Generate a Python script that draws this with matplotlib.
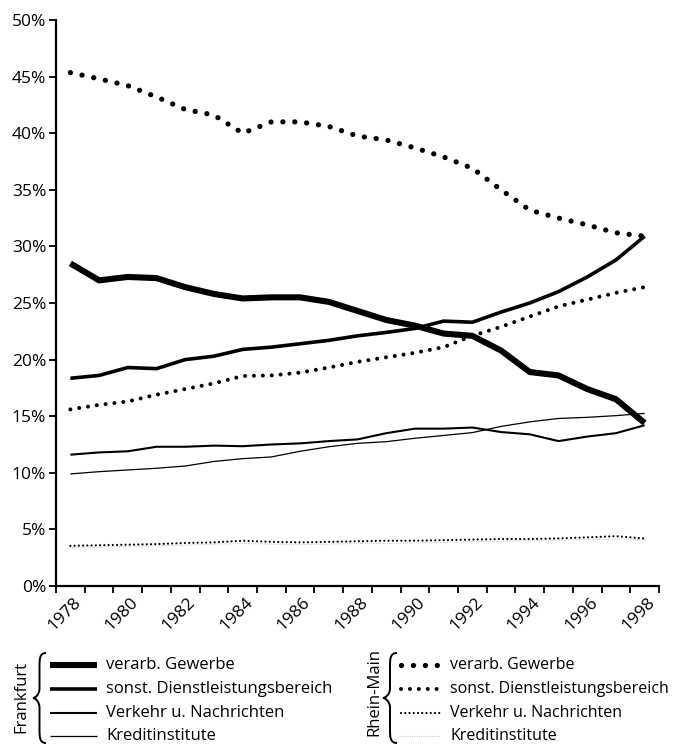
import matplotlib.pyplot as plt
from matplotlib.path import Path
from matplotlib.patches import PathPatch
from matplotlib.lines import Line2D
import matplotlib.transforms as mtransforms

plt.rcParams['font.family'] = ['Open Sans', 'DejaVu Sans']

years = list(range(1978, 1999))

# Frankfurt
ffm_verarb = [28.5, 27.0, 27.3, 27.2, 26.4, 25.8, 25.4, 25.5, 25.5, 25.1, 24.3,
              23.5, 23.0, 22.3, 22.1, 20.8, 18.9, 18.6, 17.4, 16.5, 14.4]
ffm_dienst = [18.35, 18.6, 19.3, 19.2, 20.0, 20.3, 20.9, 21.1, 21.4, 21.7, 22.1,
              22.4, 22.75, 23.4, 23.3, 24.2, 25.0, 26.0, 27.3, 28.8, 30.9]
ffm_verkehr = [11.6, 11.8, 11.9, 12.3, 12.3, 12.4, 12.35, 12.5, 12.6, 12.8, 12.95,
               13.5, 13.9, 13.9, 14.0, 13.6, 13.4, 12.8, 13.2, 13.5, 14.2]
ffm_kredit = [9.9, 10.1, 10.25, 10.4, 10.6, 11.0, 11.25, 11.4, 11.9, 12.3, 12.6,
              12.75, 13.05, 13.3, 13.55, 14.1, 14.5, 14.8, 14.9, 15.05, 15.25]

# Rhein-Main
rm_verarb = [45.35, 44.8, 44.2, 43.2, 42.1, 41.6, 40.0, 41.0, 41.0, 40.6, 39.75,
             39.4, 38.7, 37.9, 36.9, 35.0, 33.2, 32.5, 31.9, 31.2, 30.9]
rm_dienst = [15.6, 16.0, 16.3, 16.9, 17.4, 17.9, 18.55, 18.6, 18.85, 19.3, 19.8,
             20.2, 20.6, 21.1, 22.1, 22.9, 23.8, 24.7, 25.3, 25.9, 26.4]
rm_verkehr = [3.55, 3.6, 3.65, 3.7, 3.8, 3.85, 4.0, 3.9, 3.85, 3.9, 3.95,
              4.0, 4.0, 4.05, 4.1, 4.15, 4.15, 4.2, 4.3, 4.4, 4.2]
rm_kredit = [3.4, 3.45, 3.5, 3.55, 3.6, 3.7, 3.75, 3.7, 3.65, 3.7, 3.75,
             3.75, 3.8, 3.85, 3.9, 3.95, 4.0, 4.05, 4.1, 4.15, 4.1]

labels = ["verarb. Gewerbe", "sonst. Dienstleistungsbereich",
          "Verkehr u. Nachrichten", "Kreditinstitute"]

W, H = 686, 745
fig = plt.figure(figsize=(W / 100, H / 100), dpi=100)
ax = fig.add_axes([56 / W, 1 - 586 / H, 603 / W, 566 / H])

# line styles: solid for Frankfurt, dotted for Rhein-Main
ffm_styles = [dict(lw=4.4, color='black', solid_capstyle='butt'),
              dict(lw=2.6, color='black', solid_capstyle='butt'),
              dict(lw=1.5, color='black', solid_capstyle='butt'),
              dict(lw=0.9, color='black', solid_capstyle='butt')]
rm_styles = [dict(lw=3.8, color='black', linestyle=(0, (0.01, 2.25)), dash_capstyle='round'),
             dict(lw=2.9, color='black', linestyle=(0, (0.01, 2.2)), dash_capstyle='round'),
             dict(lw=1.6, color='black', linestyle=(0, (0.01, 1.9)), dash_capstyle='round'),
             dict(lw=0.8, color='#b8b8b8', linestyle=(0, (0.01, 2.0)), dash_capstyle='round')]

for vals, st in zip([rm_kredit, rm_verkehr, rm_dienst, rm_verarb], rm_styles[::-1]):
    ax.plot(years, vals, **st)
for vals, st in zip([ffm_kredit, ffm_verkehr, ffm_dienst, ffm_verarb], ffm_styles[::-1]):
    ax.plot(years, vals, **st)

ax.set_xlim(1977.5, 1998.5)
ax.set_ylim(0, 50)
ax.spines['top'].set_visible(False)
ax.spines['right'].set_visible(False)
for s in ['left', 'bottom']:
    ax.spines[s].set_linewidth(1.6)

ax.set_yticks(range(0, 51, 5))
ax.set_yticklabels([f"{v}%" for v in range(0, 51, 5)], fontsize=12.5)
ax.set_xticks([y - 0.5 for y in years] + [1998.5])
ax.set_xticklabels([])
ax.set_xticks(years[::2], minor=True)
ax.set_xticklabels([str(y) for y in years[::2]], minor=True, fontsize=12.5,
                   rotation=45, ha='right', va='center', rotation_mode='anchor')
ax.tick_params(axis='both', which='major', direction='out', length=5, width=1.3)
ax.tick_params(axis='y', pad=2)
ax.tick_params(axis='x', which='minor', length=0, pad=0)
off = mtransforms.ScaledTranslation(8 / 100, -14 / 100, fig.dpi_scale_trans)
for lab in ax.get_xticklabels(minor=True):
    lab.set_transform(lab.get_transform() + off)


def fpos(x, y):
    return (x / W, 1 - y / H)


def brace(x_tip, x_end, y_top, y_bot):
    ym = (y_top + y_bot) / 2
    xc = (x_tip + x_end) / 2
    verts = [
        fpos(x_end, y_top),
        fpos(xc, y_top), fpos(xc, y_top + 6), fpos(xc, y_top + 14),
        fpos(xc, ym - 10),
        fpos(xc, ym - 3), fpos(x_tip + 2, ym), fpos(x_tip, ym),
        fpos(x_tip + 2, ym), fpos(xc, ym + 3), fpos(xc, ym + 10),
        fpos(xc, y_bot - 14),
        fpos(xc, y_bot - 6), fpos(xc, y_bot), fpos(x_end, y_bot),
    ]
    codes = [Path.MOVETO,
             Path.CURVE4, Path.CURVE4, Path.CURVE4,
             Path.LINETO,
             Path.CURVE4, Path.CURVE4, Path.CURVE4,
             Path.CURVE4, Path.CURVE4, Path.CURVE4,
             Path.LINETO,
             Path.CURVE4, Path.CURVE4, Path.CURVE4]
    fig.patches.append(PathPatch(Path(verts, codes), transform=fig.transFigure,
                                 fill=False, lw=1.4, color='black'))


row_y = [665, 689, 713, 736]

# Frankfurt legend block
fig.text(*fpos(21, 697), "Frankfurt", rotation=90, ha='center', va='center', fontsize=12)
brace(33, 46, 653, 743)
for y, st, lab in zip(row_y, ffm_styles, labels):
    fig.lines.append(Line2D([50 / W, 97 / W], [1 - y / H] * 2,
                            transform=fig.transFigure, **st))
    fig.text(*fpos(106, y), lab, ha='left', va='center', fontsize=12)

# Rhein-Main legend block
fig.text(*fpos(374, 692), "Rhein-Main", rotation=90, ha='center', va='center', fontsize=12)
brace(383, 397, 653, 743)
for y, st, lab in zip(row_y, rm_styles, labels):
    fig.lines.append(Line2D([401 / W, 440 / W], [1 - y / H] * 2,
                            transform=fig.transFigure, **st))
    fig.text(*fpos(450, y), lab, ha='left', va='center', fontsize=11.5)

fig.savefig("out.png", dpi=100)
